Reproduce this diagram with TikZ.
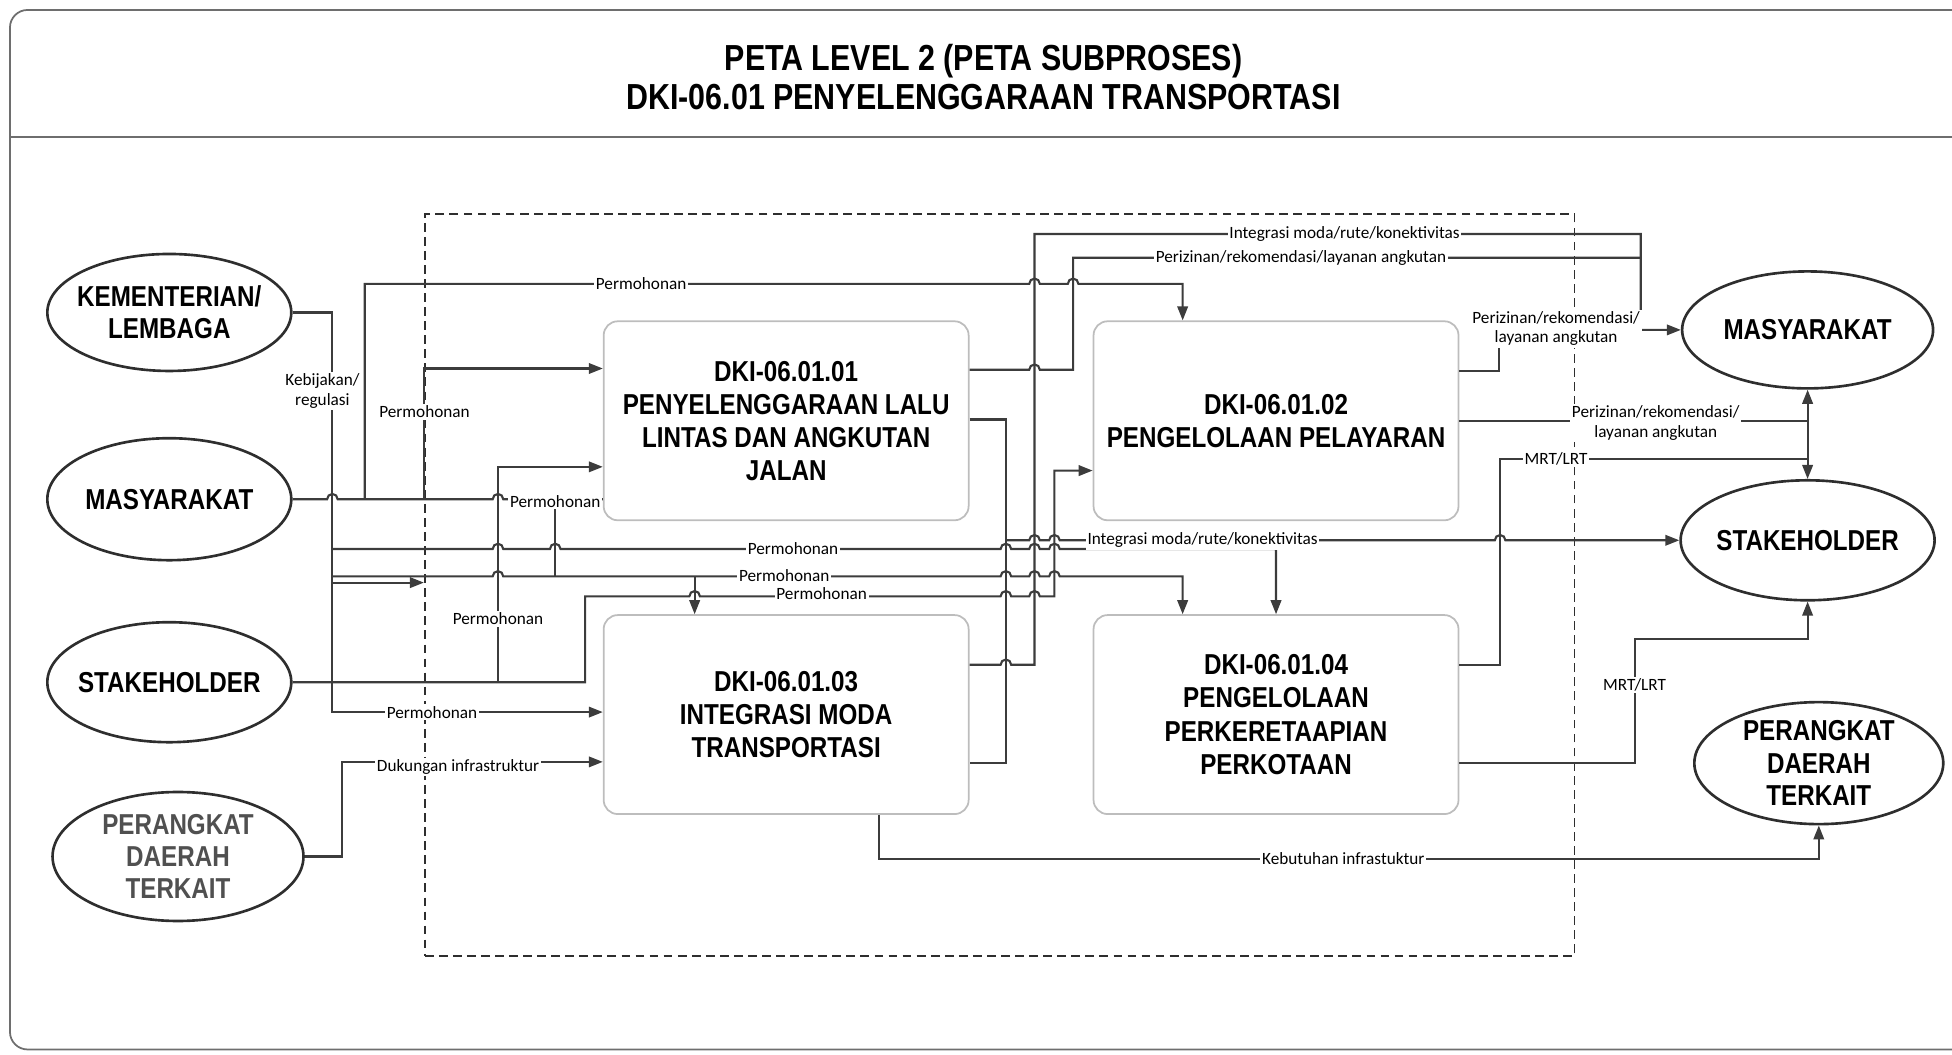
\documentclass[tikz,border=0pt]{standalone}
\usepackage{fontspec}
\setmainfont{Liberation Sans}
\newfontfamily\procfont[FakeStretch=0.84]{Liberation Sans}
\newfontfamily\lblfont{Carlito}
\usetikzlibrary{arrows.meta,positioning,calc,shapes}
\definecolor{MyLine}{HTML}{3C3C3C}
\definecolor{MyBox}{HTML}{BDBDBD}
\definecolor{MyEdge}{HTML}{2E2E2E}
\definecolor{MyFrame}{HTML}{6E6E6E}
\definecolor{MyGrayText}{HTML}{505050}

\begin{document}
\begin{tikzpicture}[x=0.01245cm, y=-0.01245cm,
	conn/.style={MyLine, line width=0.6pt},
	flow/.style={conn, -{Triangle[length=4pt, width=3pt]}},
	hopover/.style={insert path={-- ([xshift=-1.5pt]#1) arc[start angle=180, end angle=0, radius=1.5pt]}},
	proc/.style={draw=MyBox, line width=0.5pt, rounded corners=4pt, minimum width=3.65cm, minimum height=1.99cm, align=center, inner sep=1pt, font=\procfont\bfseries\fontsize{8.2}{9.4}\selectfont},
	actor/.style={ellipse, draw=MyEdge, line width=0.75pt, inner sep=0pt},
	actortext/.style={align=center, inner sep=0pt, font=\procfont\bfseries\fontsize{8.2}{9.2}\selectfont},
	lbl/.style={fill=white, inner sep=0.5pt, align=center, font=\lblfont\fontsize{4.9}{5.6}\selectfont},
	maintitle/.style={align=center, font=\procfont\bfseries\fontsize{10.3}{11.3}\selectfont}]
	\useasboundingbox (0,0) rectangle (1568,847);
	
	% frame and header
	\draw[MyFrame, line width=0.5pt, rounded corners=5pt] (1568,8) -- (8,8) -- (8,843) -- (1568,843);
	\draw[MyFrame, line width=0.6pt] (8,110) -- (1568,110);
	\node[maintitle] (ttl) at (790,62) {PETA LEVEL 2 (PETA SUBPROSES)\\DKI-06.01 PENYELENGGARAAN TRANSPORTASI};
	
	% boundary
	\node[draw=MyEdge, line width=0.5pt, dash pattern=on 2.5pt off 1.5pt, minimum width=11.5cm, minimum height=7.42cm, inner sep=0pt] (bound) at (803,470) {};
	
	% actors left
	\node[actor, minimum width=2.44cm, minimum height=1.17cm] (eKem) at (136,251) {};
	\node[actortext] (tKem) at (eKem) {KEMENTERIAN/\\LEMBAGA};
	\node[actor, minimum width=2.44cm, minimum height=1.22cm] (eMasL) at (136,401) {};
	\node[actortext] (tMasL) at (eMasL) {MASYARAKAT};
	\node[actor, minimum width=2.44cm, minimum height=1.2cm] (eStkL) at (136,548) {};
	\node[actortext] (tStkL) at (eStkL) {STAKEHOLDER};
	\node[actor, minimum width=2.51cm, minimum height=1.29cm] (ePdL) at (143,688) {};
	\node[actortext, MyGrayText] (tPdL) at (ePdL) {PERANGKAT\\DAERAH\\TERKAIT};
	
	% actors right
	\node[actor, minimum width=2.51cm, minimum height=1.17cm] (eMasR) at (1452,265) {};
	\node[actortext] (tMasR) at (eMasR) {MASYARAKAT};
	\node[actor, minimum width=2.54cm, minimum height=1.2cm] (eStkR) at (1452,434) {};
	\node[actortext] (tStkR) at (eStkR) {STAKEHOLDER};
	\node[actor, minimum width=2.49cm, minimum height=1.22cm] (ePdR) at (1461,613) {};
	\node[actortext] (tPdR) at (ePdR) {PERANGKAT\\DAERAH\\TERKAIT};
	
	% subprocesses
	\node[proc] (b1) at (631.5,338) {DKI-06.01.01\\PENYELENGGARAAN LALU\\LINTAS DAN ANGKUTAN\\JALAN};
	\node[proc] (b2) at (1025,338) {DKI-06.01.02\\PENGELOLAAN PELAYARAN};
	\node[proc] (b3) at (631.5,574) {DKI-06.01.03\\INTEGRASI MODA\\TRANSPORTASI};
	\node[proc] (b4) at (1025,574) {DKI-06.01.04\\PENGELOLAAN\\PERKERETAAPIAN\\PERKOTAAN};
	
	% kementerian
	\draw[flow] (eKem.east) -| (267,572) -- (b3.west |- 0,572);
	\draw[flow] (267,441) [hopover={400,441}] [hopover={446,441}] [hopover={808,441}] [hopover={831,441}] [hopover={847,441}] -| (b4.north);
	\draw[flow] (267,463) [hopover={400,463}] [hopover={808,463}] [hopover={831,463}] [hopover={847,463}] -| (b4.north -| 950,0);
	\draw[flow] (558,463) -- (b3.north -| 558,0);
	\draw[flow] (267,468) -- (bound.west |- 0,468);
	%
	% masyarakat
	\draw[conn] (eMasL.east) [hopover={267,401}] [hopover={400,401}] -- (b1.west |- 0,401);
	\draw[flow] (293,401) -- (293,228) [hopover={831,228}] [hopover={862,228}] -| (b2.north -| 950,0);
	\draw[flow] (bound.west |- 0,401) |- (b1.west |- 0,296);
	\draw[conn] (446,401) -- (446,463);
	%
	% stakeholder
	\draw[flow] (eStkL.east) -- (470,548) -- (470,479) [hopover={558,479}] [hopover={808,479}] [hopover={831,479}] -- (847,479) |- (b2.west |- 0,378);
	\draw[flow] (400,548) |- (b1.west |- 0,375);
	%
	% perangkat daerah
	\draw[flow] (ePdL.east) -| (275,612) -- (b3.west |- 0,612);
	%
	% outputs 06.01.01
	\draw[conn] (b1.east |- 0,297) [hopover={831,297}] -- (862,297) |- (1318,207);
	\draw[conn] (b1.east |- 0,337) -| (808,613) -- (b3.east |- 0,613);
	\draw[flow] (808,434) [hopover={831,434}] [hopover={847,434}] [hopover={1205,434}] -- (eStkR.west);
	%
	% outputs 06.01.03
	\draw[flow] (b3.east |- 0,534) [hopover={808,534}] -- (831,534) |- (1318,188) |- (eMasR.west);
	\draw[flow] (b3.south -| 706,0) |- (ePdR.south |- 0,690) -- (ePdR.south);
	%
	% outputs 06.01.02
	\draw[conn] (b2.east |- 0,298) -| (1204,265) -- (1318,265);
	\draw[conn] (b2.east |- 0,338) -- (1452,338);
	\draw[flow] (1452,338) -- (eMasR.south);
	\draw[flow] (1452,338) -- (eStkR.north);
	%
	% outputs 06.01.04
	\draw[conn] (b4.east |- 0,534) -| (1205,369) -- (1452,369);
	\draw[flow] (b4.east |- 0,613) -| (1313,513) -| (eStkR.south);
	
	% labels
	\foreach \nm/\px/\py in {pA/515/228, pB/341/331, pC/446/403, pD/637/441, pE/630/462, pF/660/477, pG/400/497, pH/347/572}
		\node[lbl] (\nm) at (\px,\py) {Permohonan};
	\node[lbl] (lKeb) at (259,314) {Kebijakan/\\regulasi};
	\node[lbl] (lDuk) at (368,616) {Dukungan infrastruktur};
	\node[lbl] (lInt1) at (1080,188) {Integrasi moda/rute/konektivitas};
	\node[lbl] (lPer1) at (1045,207) {Perizinan/rekomendasi/layanan angkutan};
	\node[lbl] (lPer2) at (1250,264) {Perizinan/rekomendasi/\\layanan angkutan};
	\node[lbl] (lPer3) at (1330,340) {Perizinan/rekomendasi/\\layanan angkutan};
	\node[lbl] (lMrt1) at (1250,369) {MRT/LRT};
	\node[lbl] (lInt2) at (966,434) {Integrasi moda/rute/konektivitas};
	\node[lbl] (lMrt2) at (1313,550) {MRT/LRT};
	\node[lbl] (lKeb2) at (1079,690) {Kebutuhan infrastuktur};
\end{tikzpicture}
\end{document}
